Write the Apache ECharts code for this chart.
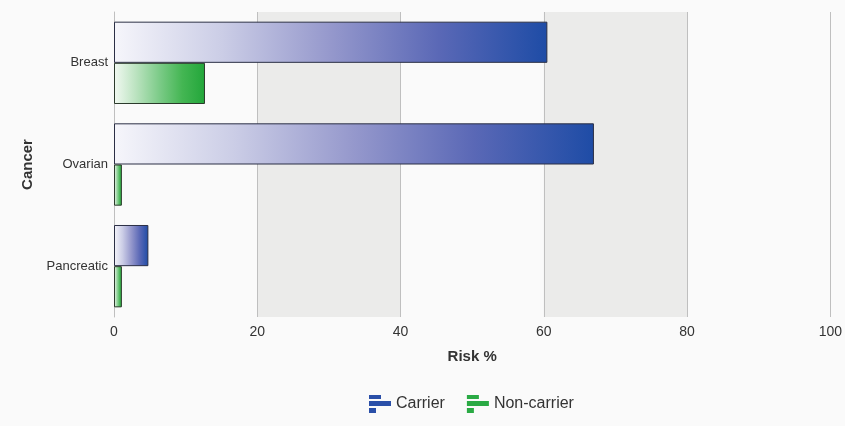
<!DOCTYPE html>
<html>
<head>
<meta charset="utf-8">
<script src="https://cdn.jsdelivr.net/npm/echarts@6/dist/echarts.min.js"></script>
<style>
  html, body { margin: 0; padding: 0; background: #fafafa; }
  #chart { width: 845px; height: 426px; }
</style>
</head>
<body>
<div id="chart"></div>
<script>
// Lifetime cancer risk by carrier status
const categories = ['Breast', 'Ovarian', 'Pancreatic'];
const carrierRisk = [60.5, 67, 4.8];
const nonCarrierRisk = [12.7, 1.1, 1.1];
const seriesNames = ['Carrier', 'Non-carrier'];
const xTicks = [0, 20, 40, 60, 80, 100];

const chart = echarts.init(document.getElementById('chart'), null, { renderer: 'canvas' });

function fade(stops) {
  return new echarts.graphic.LinearGradient(0, 0, 1, 0,
    stops.map((c, i) => ({ offset: i / (stops.length - 1), color: c })));
}

const blueFill = fade(['#f6f6fb', '#cbcde6', '#9598cc', '#5a68b6', '#1e4ca6']);
const greenFill = fade(['#f2f9f2', '#b9e2be', '#7ccb88', '#44b653', '#22a63a']);

const legendIcon = 'path://M0,0h12v4h-12z M0,6h22v5h-22z M0,13h7v5h-7z';

chart.setOption({
  backgroundColor: '#fafafa',
  animation: false,
  grid: { left: 114, right: 14, top: 12, bottom: 109 },
  legend: {
    bottom: 8,
    left: 364,
    itemWidth: 22,
    itemHeight: 18,
    itemGap: 22,
    textStyle: { fontFamily: 'Liberation Sans', fontSize: 16, color: '#333' },
    data: [
      { name: seriesNames[0], icon: legendIcon, itemStyle: { color: '#2a4fa8', borderWidth: 0 } },
      { name: seriesNames[1], icon: legendIcon, itemStyle: { color: '#2aaa44', borderWidth: 0 } }
    ]
  },
  xAxis: {
    type: 'value',
    min: 0,
    max: 100,
    interval: 20,
    name: 'Risk %',
    nameLocation: 'middle',
    nameGap: 32,
    nameTextStyle: { fontFamily: 'Liberation Sans', fontSize: 15, fontWeight: 'bold', color: '#333' },
    axisLine: { show: false },
    axisTick: { show: false },
    axisLabel: {
      fontFamily: 'Liberation Sans', fontSize: 14, color: '#333', margin: 8,
      formatter: v => xTicks.includes(v) ? String(v) : ''
    },
    splitLine: { show: true, lineStyle: { color: '#bfbfbf', width: 1 } },
    splitArea: { show: true, areaStyle: { color: ['rgba(0,0,0,0)', '#ebebea'] } }
  },
  yAxis: {
    type: 'category',
    data: categories,
    inverse: true,
    name: 'Cancer',
    nameLocation: 'middle',
    nameGap: 74,
    nameRotate: 90,
    nameTextStyle: { fontFamily: 'Liberation Sans', fontSize: 15, fontWeight: 'bold', color: '#333' },
    axisLine: { show: true, lineStyle: { color: '#bfbfbf', width: 1 } },
    axisTick: { show: false },
    axisLabel: { fontFamily: 'Liberation Sans', fontSize: 13, color: '#333', margin: 6 }
  },
  series: [
    {
      name: seriesNames[0],
      type: 'bar',
      data: carrierRisk,
      barGap: '0%',
      barCategoryGap: '19%',
      itemStyle: { color: blueFill, borderColor: '#2b2f45', borderWidth: 1 }
    },
    {
      name: seriesNames[1],
      type: 'bar',
      data: nonCarrierRisk,
      barGap: '0%',
      barCategoryGap: '19%',
      itemStyle: { color: greenFill, borderColor: '#2b3a2b', borderWidth: 1 }
    }
  ]
});
</script>
</body>
</html>
